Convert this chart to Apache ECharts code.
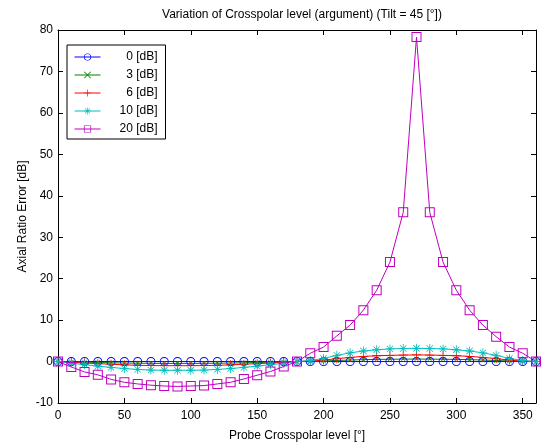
<!DOCTYPE html>
<html>
<head>
<meta charset="utf-8">
<script src="https://cdn.jsdelivr.net/npm/echarts@6/dist/echarts.min.js"></script>
<style>html,body{margin:0;padding:0;background:#fff;}#c{width:541px;height:446px;}</style>
</head>
<body>
<div id="c"></div>
<script>
const angles = [0,10,20,30,40,50,60,70,80,90,100,110,120,130,140,150,160,170,180,190,200,210,220,230,240,250,260,270,280,290,300,310,320,330,340,350,360];
const err0dB = [0,0,0,0,0,0,0,0,0,0,0,0,0,0,0,0,0,0,0,0,0,0,0,0,0,0,0,0,0,0,0,0,0,0,0,0,0];
const err3dB = [0,-0.08,-0.16,-0.23,-0.3,-0.36,-0.4,-0.43,-0.45,-0.45,-0.45,-0.43,-0.4,-0.36,-0.3,-0.23,-0.16,-0.08,0,
  0.04,0.13,0.26,0.37,0.46,0.52,0.56,0.59,0.6,0.59,0.56,0.52,0.46,0.37,0.26,0.13,0.04,0];
const err6dB = [0,-0.2,-0.35,-0.5,-0.65,-0.8,-0.9,-0.97,-1.0,-1.0,-1.0,-0.97,-0.9,-0.8,-0.65,-0.5,-0.35,-0.2,0,
  0.1,0.35,0.7,1.0,1.25,1.4,1.5,1.57,1.6,1.57,1.5,1.4,1.25,1.0,0.7,0.35,0.1,0];
const err10dB = [0,-0.4,-0.75,-1.1,-1.4,-1.7,-1.9,-2.05,-2.1,-2.1,-2.1,-2.05,-1.9,-1.7,-1.4,-1.1,-0.75,-0.4,0,
  0.25,0.75,1.5,2.1,2.55,2.85,3.05,3.15,3.2,3.15,3.05,2.85,2.55,2.1,1.5,0.75,0.25,0];
const err20dB = [0,-1.3,-2.5,-3.2,-4.3,-5.0,-5.4,-5.7,-5.9,-6.0,-5.9,-5.8,-5.4,-5.0,-4.2,-3.3,-2.4,-1.2,0,
  2.0,3.5,6.2,8.8,12.4,17.2,24.0,36.0,78.3,36.0,24.0,17.2,12.4,8.8,6.0,3.5,2.0,0];
const seriesNames = ['0 [dB]','3 [dB]','6 [dB]','10 [dB]','20 [dB]'];
const xTickLabels = [0,50,100,150,200,250,300,350];
const yTickLabels = [-10,0,10,20,30,40,50,60,70,80];

const FONT = 'Liberation Sans, Arial, sans-serif';
const circlePath = 'path://M5,0A5,5 0 1,1 5,10A5,5 0 1,1 5,0Z M5,1A4,4 0 1,0 5,9A4,4 0 1,0 5,1Z';
const squarePath = 'path://M0,0L10,0L10,10L0,10Z M1,1L1,9L9,9L9,1Z';
const plusPath = 'path://M0,4.55L10,4.55L10,5.45L0,5.45Z M4.55,0L5.45,0L5.45,10L4.55,10Z';
const xPath = 'path://M0.8,0L10,9.2L9.2,10L0,0.8Z M9.2,0L10,0.8L0.8,10L0,9.2Z';
const starPath = 'path://M0,4.55L10,4.55L10,5.45L0,5.45Z M4.55,0L5.45,0L5.45,10L4.55,10Z M1.8,1.2L8.8,8.2L8.2,8.8L1.2,1.8Z M8.2,1.2L8.8,1.8L1.8,8.8L1.2,8.2Z';

function mk(name, vals, color, symbol, size) {
  return {
    name: name,
    type: 'line',
    data: angles.map((a, i) => [a, vals[i]]),
    symbol: symbol,
    symbolSize: size,
    showAllSymbol: true,
    animation: false,
    color: color,
    lineStyle: { color: color, width: 1 },
    itemStyle: { color: color, borderWidth: 0 },
    emphasis: { disabled: true }
  };
}

const chart = echarts.init(document.getElementById('c'), null, { renderer: 'canvas' });
chart.setOption({
  animation: false,
  backgroundColor: '#ffffff',
  title: {
    text: 'Variation of Crosspolar level (argument) (Tilt = 45 [°])',
    left: 297, top: 4, textAlign: 'center',
    textStyle: { fontFamily: FONT, fontSize: 12, fontWeight: 'normal', color: '#000' }
  },
  grid: { left: 58, right: 5, top: 30, bottom: 43, show: false, containLabel: false, outerBoundsMode: 'none' },
  legend: {
    left: 67, top: 45,
    orient: 'vertical',
    backgroundColor: '#fff',
    borderColor: '#000', borderWidth: 1,
    padding: [6, 8, 4, 7],
    itemGap: 6,
    itemWidth: 26, itemHeight: 9,
    data: seriesNames,
    lineStyle: { width: 1 },
    formatter: '{a|{name}}',
    textStyle: {
      fontFamily: FONT, fontSize: 12, color: '#000',
      rich: { a: { width: 52, align: 'right', fontFamily: FONT, fontSize: 12 } }
    }
  },
  xAxis: [{
    type: 'value', min: 0, max: 360, interval: 50,
    position: 'bottom',
    name: 'Probe Crosspolar level [°]', nameLocation: 'middle', nameGap: 27, nameMoveOverlap: false,
    nameTextStyle: { fontFamily: FONT, fontSize: 12, color: '#000' },
    axisLine: { show: true, onZero: false, lineStyle: { color: '#000', width: 1 } },
    axisTick: { show: true, inside: true, length: 5, lineStyle: { color: '#000' } },
    axisLabel: { fontFamily: FONT, fontSize: 12, color: '#000', margin: 7, showMaxLabel: false,
      formatter: v => xTickLabels.indexOf(v) >= 0 ? String(v) : '' },
    splitLine: { show: false }
  }, {
    type: 'value', min: 0, max: 360, interval: 50,
    position: 'top',
    axisLine: { show: true, onZero: false, lineStyle: { color: '#000', width: 1 } },
    axisTick: { show: true, inside: true, length: 5, lineStyle: { color: '#000' } },
    axisLabel: { show: false },
    splitLine: { show: false }
  }],
  yAxis: [{
    type: 'value', min: -10, max: 80, interval: 10,
    position: 'left',
    name: 'Axial Ratio Error [dB]', nameLocation: 'middle', nameGap: 29, nameMoveOverlap: false,
    nameTextStyle: { fontFamily: FONT, fontSize: 12, color: '#000' },
    axisLine: { show: true, onZero: false, lineStyle: { color: '#000', width: 1 } },
    axisTick: { show: true, inside: true, length: 5, lineStyle: { color: '#000' } },
    axisLabel: { fontFamily: FONT, fontSize: 12, color: '#000', margin: 5,
      formatter: v => yTickLabels.indexOf(v) >= 0 ? String(v) : '' },
    splitLine: { show: false }
  }, {
    type: 'value', min: -10, max: 80, interval: 10,
    position: 'right',
    axisLine: { show: true, onZero: false, lineStyle: { color: '#000', width: 1 } },
    axisTick: { show: true, inside: true, length: 5, lineStyle: { color: '#000' } },
    axisLabel: { show: false },
    splitLine: { show: false }
  }],
  series: [
    mk(seriesNames[0], err0dB, '#0000ff', circlePath, 9),
    mk(seriesNames[1], err3dB, '#008000', xPath, 5),
    mk(seriesNames[2], err6dB, '#ff0000', plusPath, 9),
    mk(seriesNames[3], err10dB, '#00bfbf', starPath, 9),
    mk(seriesNames[4], err20dB, '#bf00bf', squarePath, 10)
  ]
});
</script>
</body>
</html>
